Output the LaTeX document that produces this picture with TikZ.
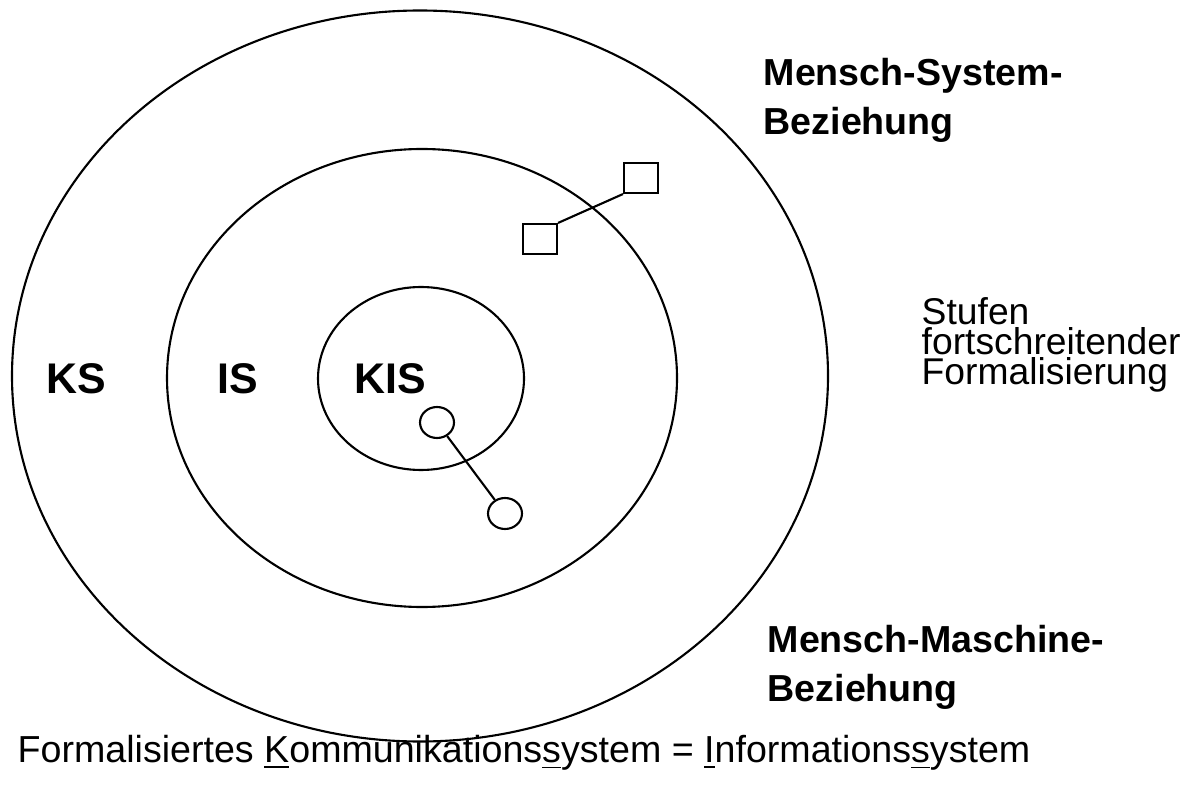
\documentclass[tikz,border=0pt]{standalone}
\usepackage{fontspec}
\setmainfont{Liberation Sans}
\usetikzlibrary{shapes.geometric}
\newcommand\tightlines{\fontsize{10.6}{8.5}\selectfont\lineskiplimit=-10pt\relax}

\begin{document}
\begin{tikzpicture}[
    ring/.style={line width=0.6pt},
    box/.style={draw, line width=0.6pt, rectangle, inner sep=0pt, minimum width=0.34cm, minimum height=0.30cm},
    blob/.style={draw, line width=0.6pt, ellipse, inner sep=0pt, minimum width=0.34cm, minimum height=0.31cm},
    link/.style={line width=0.6pt},
    zone/.style={font=\fontsize{12.2}{14}\selectfont\bfseries, inner sep=0pt},
    side/.style={font=\fontsize{10.7}{13.7}\selectfont\bfseries, inner sep=0pt, align=left, anchor=north west},
    plain/.style={font=\tightlines, inner sep=0pt, align=left, anchor=north west}
  ]
			%%%%% START %%%%%
			\useasboundingbox (0,0) rectangle (11.93,7.85);

			\draw[ring] (4.20,4.09) ellipse (4.08 and 3.655);
			\draw[ring] (4.22,4.07) ellipse (2.55 and 2.29);
			\draw[ring] (4.21,4.065) ellipse (1.03 and 0.915);

			\node[zone] (ks) at (0.765,4.06) {KS};
			\node[zone] (is) at (2.38,4.06) {IS};
			\node[zone] (kis) at (3.90,4.06) {KIS};

			\node[box] (sqlow) at (5.40,5.46) {};
			\node[box] (sqhigh) at (6.41,6.07) {};
			\draw[link] (sqlow.north east) -- (sqhigh.south west);

			\node[blob] (dothigh) at (4.37,3.625) {};
			\node[blob] (dotlow) at (5.05,2.715) {};
			\draw[link] (dothigh) -- (dotlow);

			\node[side] (msys) at (7.63,7.27) {Mensch-System-\\Beziehung};
			\node[side] (mmas) at (7.67,1.60) {Mensch-Maschine-\\Beziehung};
			\node[plain] (stufen) at (9.21,4.88) {Stufen\\fortschreitender\\Formalisierung};

			\node[font=\fontsize{10.7}{12}\selectfont, inner sep=0pt, anchor=base west] (formal) at (0.17,0.23)
			  {Formalisiertes \underline{K}ommunikations\underline{s}ystem = \underline{I}nformations\underline{s}ystem};
			%%%%% END %%%%%
\end{tikzpicture}
\end{document}
